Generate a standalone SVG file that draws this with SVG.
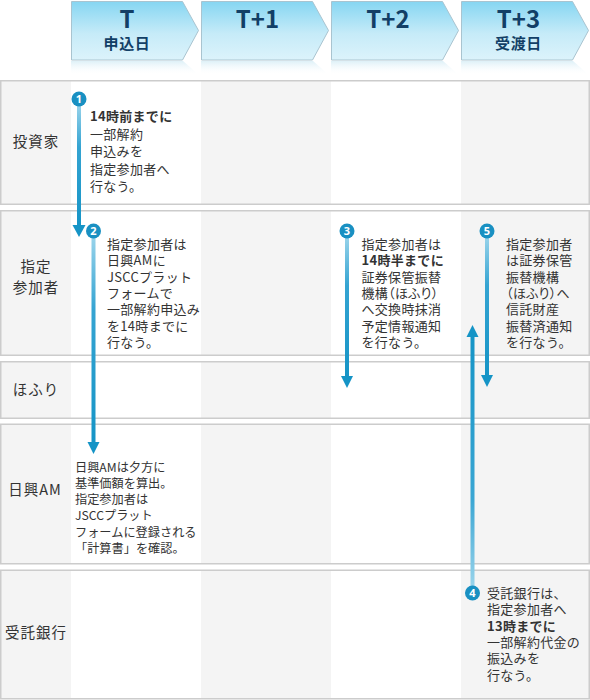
<svg xmlns="http://www.w3.org/2000/svg" width="590" height="700" viewBox="0 0 590 700">
<defs>
<linearGradient id="chev" x1="0" y1="0" x2="0" y2="1">
<stop offset="0" stop-color="#86d6f2"/>
<stop offset="0.55" stop-color="#c6ebf8"/>
<stop offset="1" stop-color="#dcf3fb"/>
</linearGradient>
<linearGradient id="refl" x1="0" y1="0" x2="0" y2="1">
<stop offset="0" stop-color="#cfeaf4" stop-opacity="0.7"/>
<stop offset="1" stop-color="#ffffff" stop-opacity="0"/>
</linearGradient>
<linearGradient id="shaftDown" x1="0" y1="0" x2="0" y2="1">
<stop offset="0" stop-color="#9ad4eb"/>
<stop offset="0.35" stop-color="#35a4d2"/>
<stop offset="1" stop-color="#1594c6"/>
</linearGradient>
<linearGradient id="shaftUp" x1="0" y1="1" x2="0" y2="0">
<stop offset="0" stop-color="#9ad4eb"/>
<stop offset="0.35" stop-color="#3aa6d3"/>
<stop offset="1" stop-color="#1594c6"/>
</linearGradient>
<style>
.chev{fill:url(#chev);stroke:#a9c4d0;stroke-width:1}
.refl{fill:url(#refl)}
.hd{font-family:"Noto Sans CJK JP","Noto Sans",sans-serif;font-weight:bold;fill:#123f66;text-anchor:middle}
.hdT{font-size:24px}
.hdS{font-size:15px;letter-spacing:0.6px}
.row{stroke:#cccccc;stroke-width:1.5;fill:none}
.g{fill:#f4f4f4}
.w{fill:#ffffff}
.lab{font-family:"Noto Sans CJK JP","Noto Sans",sans-serif;font-size:14.5px;letter-spacing:1px;fill:#333333;text-anchor:middle}
.tx{font-family:"Noto Sans CJK JP","Noto Sans",sans-serif;font-size:13px;letter-spacing:0.3px;fill:#333333}
.tx2{font-family:"Noto Sans CJK JP","Noto Sans",sans-serif;font-size:12.2px;fill:#333333}
.b{font-weight:bold}
.p{font-feature-settings:"palt"}
.num{fill:#1990c2}
.nt{font-family:"Noto Sans","Liberation Sans",sans-serif;font-size:11px;font-weight:bold;fill:#ffffff;text-anchor:middle}
.head{fill:#1594c6}
</style>
</defs>
<rect x="0" y="0" width="590" height="700" fill="#ffffff"/>

<g id="rows">
<g id="row1">
<rect class="g" x="0.75" y="80.75" width="588.5" height="123.5"/>
<rect class="w" x="71" y="80.75" width="130" height="123.5"/>
<rect class="w" x="331" y="80.75" width="130" height="123.5"/>
<rect class="row" x="0.75" y="80.75" width="588.5" height="123.5"/>
<text class="lab" x="36" y="147">投資家</text>
</g>
<g id="row2">
<rect class="g" x="0.75" y="210.75" width="588.5" height="144.5"/>
<rect class="w" x="71" y="210.75" width="130" height="144.5"/>
<rect class="w" x="331" y="210.75" width="130" height="144.5"/>
<rect class="row" x="0.75" y="210.75" width="588.5" height="144.5"/>
<text class="lab" x="36" y="272">指定</text>
<text class="lab" x="36" y="293">参加者</text>
</g>
<g id="row3">
<rect class="g" x="0.75" y="361.75" width="588.5" height="56.5"/>
<rect class="w" x="71" y="361.75" width="130" height="56.5"/>
<rect class="w" x="331" y="361.75" width="130" height="56.5"/>
<rect class="row" x="0.75" y="361.75" width="588.5" height="56.5"/>
<text class="lab" x="36" y="395">ほふり</text>
</g>
<g id="row4">
<rect class="g" x="0.75" y="424.25" width="588.5" height="139.5"/>
<rect class="w" x="71" y="424.25" width="130" height="139.5"/>
<rect class="w" x="331" y="424.25" width="130" height="139.5"/>
<rect class="row" x="0.75" y="424.25" width="588.5" height="139.5"/>
<text class="lab" x="35" y="495" letter-spacing="2">日興AM</text>
</g>
<g id="row5">
<rect class="g" x="0.75" y="570.25" width="588.5" height="128.5"/>
<rect class="w" x="71" y="570.25" width="130" height="128.5"/>
<rect class="w" x="331" y="570.25" width="130" height="128.5"/>
<rect class="row" x="0.75" y="570.25" width="588.5" height="128.5"/>
<text class="lab" x="36" y="638">受託銀行</text>
</g>
</g>

<g id="headers">
<g id="hT">
<polygon class="refl" points="71,61 183,61 199,75 71,75"/>
<polygon class="chev" points="71.5,1.5 182.5,1.5 198.5,30.5 182.5,60 71.5,60"/>
<text class="hd hdT" x="127" y="28">T</text>
<text class="hd hdS" x="127" y="49">申込日</text>
</g>
<g id="hT1">
<polygon class="refl" points="201,61 313,61 329,75 201,75"/>
<polygon class="chev" points="201.5,1.5 312.5,1.5 328.5,30.5 312.5,60 201.5,60"/>
<text class="hd hdT" x="257.5" y="28">T+1</text>
</g>
<g id="hT2">
<polygon class="refl" points="331,61 443,61 459,75 331,75"/>
<polygon class="chev" points="331.5,1.5 442.5,1.5 458.5,30.5 442.5,60 331.5,60"/>
<text class="hd hdT" x="388" y="28">T+2</text>
</g>
<g id="hT3">
<polygon class="refl" points="461,61 573,61 589,75 461,75"/>
<polygon class="chev" points="461.5,1.5 572.5,1.5 588.5,30.5 572.5,60 461.5,60"/>
<text class="hd hdT" x="518.5" y="28">T+3</text>
<text class="hd hdS" x="518.5" y="49">受渡日</text>
</g>
</g>

<g id="connectors">
<g id="arrow1">
<rect x="77" y="104" width="4" height="123" fill="url(#shaftDown)"/>
<polygon class="head" points="72.5,225 85.5,225 79,237"/>
<circle class="num" cx="79" cy="99" r="7.5"/>
<text class="nt" x="79" y="103">1</text>
</g>
<g id="arrow2">
<rect x="91.5" y="236" width="4" height="208" fill="url(#shaftDown)"/>
<polygon class="head" points="87.5,442 99.5,442 93.5,454"/>
<circle class="num" cx="93.5" cy="231" r="7.5"/>
<text class="nt" x="93.5" y="235">2</text>
</g>
<g id="arrow3">
<rect x="345" y="236" width="4" height="142" fill="url(#shaftDown)"/>
<polygon class="head" points="341,376 353,376 347,388"/>
<circle class="num" cx="347" cy="231" r="7.5"/>
<text class="nt" x="347" y="235">3</text>
</g>
<g id="arrow5">
<rect x="485" y="236" width="4" height="141" fill="url(#shaftDown)"/>
<polygon class="head" points="481,375 493,375 487,387"/>
<circle class="num" cx="487" cy="231" r="7.5"/>
<text class="nt" x="487" y="235">5</text>
</g>
<g id="arrow4">
<rect x="470.5" y="335" width="4" height="253" fill="url(#shaftUp)"/>
<polygon class="head" points="466.5,337 478.5,337 472.5,325"/>
<circle class="num" cx="472.5" cy="593" r="7.5"/>
<text class="nt" x="472.5" y="597">4</text>
</g>
</g>

<g id="step1">
<text class="tx" x="90" y="121">
<tspan class="b" x="90" y="121">14時前までに</tspan>
<tspan x="90" y="138.6">一部解約</tspan>
<tspan x="90" y="156.2">申込みを</tspan>
<tspan x="90" y="173.8">指定参加者へ</tspan>
<tspan x="90" y="191.4">行なう。</tspan>
</text>
</g>
<g id="step2">
<text class="tx" x="107" y="249">
<tspan x="107" y="249">指定参加者は</tspan>
<tspan x="107" y="265.3">日興AMに</tspan>
<tspan x="107" y="281.6">JSCCプラット</tspan>
<tspan x="107" y="297.9">フォームで</tspan>
<tspan x="107" y="314.2">一部解約申込み</tspan>
<tspan x="107" y="330.5">を14時までに</tspan>
<tspan x="107" y="346.8">行なう。</tspan>
</text>
</g>
<g id="step3">
<text class="tx" x="361.5" y="249">
<tspan x="361.5" y="249">指定参加者は</tspan>
<tspan class="b" x="361.5" y="265.3">14時半までに</tspan>
<tspan x="361.5" y="281.6">証券保管振替</tspan>
<tspan class="p" x="361.5" y="297.9">機構（ほふり）</tspan>
<tspan x="361.5" y="314.2">へ交換時抹消</tspan>
<tspan x="361.5" y="330.5">予定情報通知</tspan>
<tspan x="361.5" y="346.8">を行なう。</tspan>
</text>
</g>
<g id="step5">
<text class="tx" x="506" y="249">
<tspan x="506" y="249">指定参加者</tspan>
<tspan x="506" y="265.3">は証券保管</tspan>
<tspan x="506" y="281.6">振替機構</tspan>
<tspan class="p" x="506" y="297.9">（ほふり）へ</tspan>
<tspan x="506" y="314.2">信託財産</tspan>
<tspan x="506" y="330.5">振替済通知</tspan>
<tspan x="506" y="346.8">を行なう。</tspan>
</text>
</g>
<g id="stepAM">
<text class="tx2" x="75" y="471.5">
<tspan x="75" y="471.5">日興AMは夕方に</tspan>
<tspan x="75" y="487.8">基準価額を算出。</tspan>
<tspan x="75" y="504.1">指定参加者は</tspan>
<tspan x="75" y="520.4">JSCCプラット</tspan>
<tspan x="75" y="536.7">フォームに登録される</tspan>
<tspan x="75" y="553">「計算書」を確認。</tspan>
</text>
</g>
<g id="step4">
<text class="tx" x="487" y="598">
<tspan x="487" y="598">受託銀行は、</tspan>
<tspan x="487" y="614.3">指定参加者へ</tspan>
<tspan class="b" x="487" y="630.6">13時までに</tspan>
<tspan x="487" y="646.9">一部解約代金の</tspan>
<tspan x="487" y="663.2">振込みを</tspan>
<tspan x="487" y="679.5">行なう。</tspan>
</text>
</g>
</svg>
